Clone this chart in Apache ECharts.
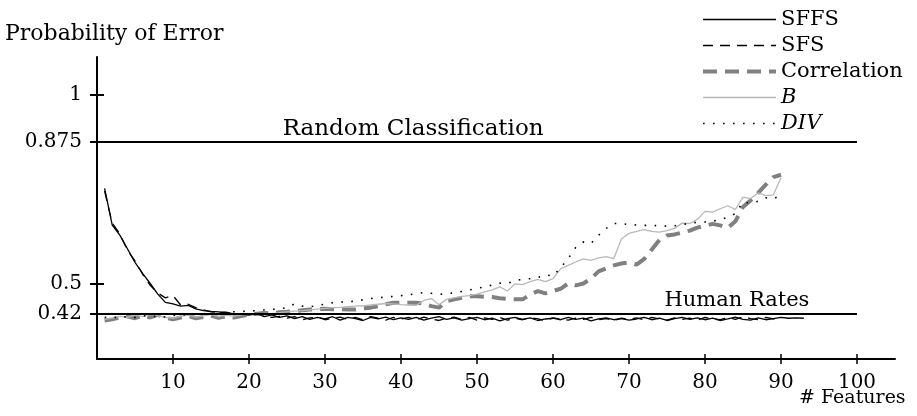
<!DOCTYPE html>
<html>
<head>
<meta charset="utf-8">
<title>Probability of Error vs # Features</title>
<style>
  html, body { margin: 0; padding: 0; background: #fff; }
  #chart { width: 917px; height: 416px; }
</style>
</head>
<body>
<div id="chart"></div>
<script src="https://cdn.jsdelivr.net/npm/echarts@6/dist/echarts.min.js"></script>
<script>
// values, x = 1, 2, 3 ...
var sffs = [0.752,0.655,0.628,0.592,0.556,0.527,0.5,0.472,0.45,0.446,0.44,0.442,0.433,0.428,0.426,0.425,0.422,0.42,0.418,0.416,
  0.42,0.412,0.417,0.41,0.414,0.407,0.412,0.405,0.41,0.406,
  0.412,0.403,0.41,0.407,0.402,0.41,0.406,0.411,0.404,0.409,
  0.405,0.41,0.403,0.408,0.412,0.405,0.409,0.403,0.407,0.41,
  0.404,0.408,0.401,0.407,0.41,0.405,0.409,0.402,0.406,0.408,
  0.404,0.41,0.405,0.408,0.401,0.406,0.409,0.404,0.407,0.403,
  0.406,0.41,0.404,0.408,0.402,0.407,0.41,0.405,0.409,0.404,
  0.408,0.402,0.406,0.411,0.405,0.403,0.409,0.404,0.407,0.41,
  0.408,0.409,0.408];
var sfs = [0.745,0.66,0.632,0.588,0.56,0.525,0.495,0.475,0.462,0.468,0.443,0.445,0.436,0.43,0.425,0.423,0.424,0.419,0.42,0.414,
  0.418,0.415,0.41,0.413,0.408,0.412,0.404,0.409,0.411,0.404,
  0.408,0.411,0.405,0.41,0.404,0.412,0.408,0.403,0.41,0.406,
  0.41,0.404,0.411,0.406,0.402,0.408,0.411,0.405,0.41,0.403,
  0.409,0.405,0.41,0.403,0.408,0.404,0.41,0.406,0.402,0.409,
  0.406,0.403,0.408,0.405,0.41,0.404,0.407,0.402,0.408,0.405,
  0.409,0.404,0.41,0.406,0.403,0.409,0.405,0.408,0.403,0.41,
  0.406,0.404,0.41,0.405,0.412,0.407,0.404,0.41,0.406,0.409];
var correlation = [0.402,0.405,0.41,0.413,0.408,0.415,0.41,0.417,0.409,0.405,0.41,0.414,0.408,0.411,0.415,0.409,0.413,0.41,0.414,0.418,
  0.42,0.422,0.421,0.424,0.425,0.427,0.429,0.431,0.432,0.433,
  0.432,0.432,0.431,0.431,0.434,0.436,0.44,0.445,0.449,0.449,
  0.449,0.449,0.447,0.44,0.436,0.453,0.458,0.462,0.466,0.466,
  0.465,0.464,0.461,0.459,0.458,0.458,0.471,0.48,0.474,0.48,
  0.486,0.5,0.495,0.5,0.513,0.532,0.54,0.548,0.553,0.556,
  0.55,0.565,0.59,0.615,0.627,0.63,0.635,0.64,0.648,0.653,
  0.658,0.654,0.647,0.665,0.703,0.72,0.74,0.762,0.782,0.788];
var bDist = [0.405,0.408,0.413,0.41,0.416,0.412,0.418,0.414,0.41,0.408,0.413,0.416,0.411,0.414,0.418,0.412,0.416,0.413,0.417,0.42,
  0.418,0.421,0.42,0.423,0.425,0.427,0.428,0.43,0.432,0.434,
  0.436,0.437,0.439,0.44,0.441,0.443,0.445,0.447,0.446,0.444,
  0.443,0.442,0.455,0.46,0.444,0.458,0.462,0.466,0.468,0.472,
  0.478,0.483,0.491,0.48,0.499,0.497,0.505,0.511,0.505,0.513,
  0.539,0.548,0.557,0.565,0.561,0.568,0.571,0.566,0.618,0.633,
  0.638,0.643,0.638,0.636,0.64,0.646,0.66,0.659,0.67,0.691,
  0.689,0.698,0.706,0.696,0.729,0.725,0.74,0.733,0.735,0.78];
var div = [0.41,0.412,0.408,0.413,0.41,0.415,0.412,0.414,0.411,0.415,0.418,0.416,0.419,0.42,0.422,0.421,0.424,0.425,0.426,0.427,
  0.428,0.43,0.431,0.433,0.436,0.446,0.44,0.438,0.442,0.445,
  0.449,0.451,0.452,0.453,0.457,0.46,0.462,0.464,0.466,0.468,
  0.47,0.473,0.476,0.474,0.471,0.473,0.475,0.479,0.483,0.487,
  0.491,0.496,0.501,0.5,0.508,0.511,0.513,0.516,0.523,0.52,
  0.542,0.566,0.596,0.61,0.606,0.628,0.646,0.659,0.659,0.656,
  0.655,0.654,0.654,0.653,0.652,0.653,0.656,0.66,0.662,0.663,
  0.665,0.669,0.676,0.685,0.716,0.713,0.718,0.727,0.724,0.735];

var xTicks = [10, 20, 30, 40, 50, 60, 70, 80, 90, 100];
var yTicks = [0.42, 0.5, 0.875, 1];
var randomRate = 0.875;
var humanRate = 0.42;

var serif = 'DejaVu Serif';

function pairs(arr) {
  return arr.map(function (v, i) { return [i + 1, v]; });
}

var myChart = echarts.init(document.getElementById('chart'), null, { renderer: 'canvas' });

var option = {
  animation: false,
  backgroundColor: '#fff',
  textStyle: { fontFamily: serif, color: '#000' },
  grid: { left: 97, right: 22, top: 57, bottom: 57 },
  legend: {
    orient: 'vertical',
    left: 696,
    top: 4,
    itemWidth: 73,
    itemHeight: 14,
    itemGap: 5,
    itemStyle: { opacity: 0 },
    textStyle: {
      fontFamily: serif, fontSize: 21, color: '#000',
      rich: { i: { fontFamily: serif, fontSize: 21, fontStyle: 'italic', color: '#000' } }
    },
    formatter: function (name) {
      return (name === 'B' || name === 'DIV') ? '{i|' + name + '}' : name;
    },
    data: [
      { name: 'SFFS', lineStyle: { width: 1.3 } },
      { name: 'SFS', lineStyle: { width: 1.3 } },
      { name: 'Correlation', lineStyle: { width: 4 } },
      { name: 'B', lineStyle: { width: 1.3 } },
      { name: 'DIV', lineStyle: { width: 1.6 } }
    ]
  },
  xAxis: [{
    type: 'value', min: 0, max: 105,
    axisLine: { lineStyle: { color: '#000', width: 2 } },
    axisTick: { customValues: xTicks, length: 5, lineStyle: { color: '#000', width: 1.5 } },
    axisLabel: { customValues: xTicks, margin: 14, fontFamily: serif, fontSize: 20, color: '#000' },
    splitLine: { show: false }
  }, {
    type: 'value', min: 0, max: 105, position: 'bottom',
    axisLine: { show: false },
    axisTick: { customValues: xTicks, inside: true, length: 5, lineStyle: { color: '#000', width: 1.5 } },
    axisLabel: { show: false },
    splitLine: { show: false }
  }],
  yAxis: [{
    type: 'value', min: 0.3, max: 1.1,
    axisLine: { show: true, lineStyle: { color: '#000', width: 2 } },
    axisTick: { show: true, customValues: yTicks, length: 7, lineStyle: { color: '#000', width: 2 } },
    axisLabel: { customValues: yTicks, margin: 15, fontFamily: serif, fontSize: 20, color: '#000' },
    splitLine: { show: false }
  }, {
    type: 'value', min: 0.3, max: 1.1, position: 'left',
    axisLine: { show: false },
    axisTick: { show: true, customValues: [0.5, 1], inside: true, length: 7, lineStyle: { color: '#000', width: 2 } },
    axisLabel: { show: false },
    splitLine: { show: false }
  }],
  graphic: [{
    type: 'text', left: 5, top: 23,
    style: { text: 'Probability of Error', font: '22px "DejaVu Serif"', fill: '#000' }
  }, {
    type: 'text', left: 799, top: 389,
    style: { text: '# Features', font: '19px "DejaVu Serif"', fill: '#000' }
  }],
  series: [{
    name: 'SFFS', type: 'line', symbol: 'none',
    lineStyle: { color: '#000', width: 1.3 },
    itemStyle: { color: '#000' },
    data: pairs(sffs),
    markLine: {
      silent: true, symbol: 'none', label: { show: false },
      lineStyle: { color: '#000', width: 2, type: 'solid' },
      data: [
        [{ coord: [0, randomRate] }, { coord: [100, randomRate] }],
        [{ coord: [0, humanRate] }, { coord: [100, humanRate] }]
      ]
    },
    markPoint: {
      symbol: 'circle', symbolSize: 0, silent: true,
      label: { show: true, position: 'top', formatter: '{b}', fontFamily: serif, color: '#000' },
      data: [
        { name: 'Random Classification', coord: [41.6, randomRate], label: { fontSize: 23, distance: 1 } },
        { name: 'Human Rates', coord: [84.2, humanRate], label: { fontSize: 21, distance: 3 } }
      ]
    }
  }, {
    name: 'SFS', type: 'line', symbol: 'none',
    lineStyle: { color: '#000', width: 1.3, type: [10, 7] },
    itemStyle: { color: '#000' },
    data: pairs(sfs)
  }, {
    name: 'Correlation', type: 'line', symbol: 'none',
    lineStyle: { color: '#808080', width: 4, type: [14, 8] },
    itemStyle: { color: '#808080' },
    data: pairs(correlation)
  }, {
    name: 'B', type: 'line', symbol: 'none',
    lineStyle: { color: '#b8b8b8', width: 1.3 },
    itemStyle: { color: '#b8b8b8' },
    data: pairs(bDist)
  }, {
    name: 'DIV', type: 'line', symbol: 'none',
    lineStyle: { color: '#000', width: 1.6, type: [1.6, 8.4] },
    itemStyle: { color: '#000' },
    data: pairs(div)
  }]
};

myChart.setOption(option);
</script>
</body>
</html>
